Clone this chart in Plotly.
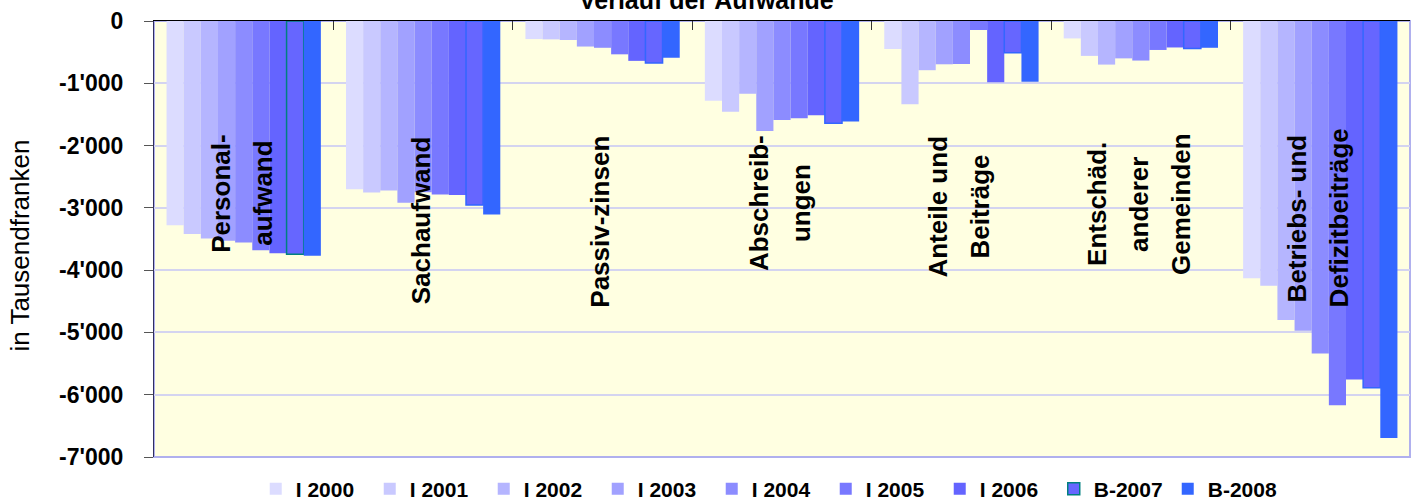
import plotly.graph_objects as go

# ---- data ----
categories = ["Personalaufwand", "Sachaufwand", "Passivzinsen", "Abschreibungen",
              "Anteile und Beiträge", "Entschädigungen anderer Gemeinden",
              "Betriebs- und Defizitbeiträge"]
category_label_lines = [["Personal-", "aufwand"], ["Sachaufwand"], ["Passiv-zinsen"],
                        ["Abschreib-", "ungen"], ["Anteile und", "Beiträge"],
                        ["Entschäd.", "anderer", "Gemeinden"],
                        ["Betriebs- und", "Defizitbeiträge"]]
series_names = ["I 2000", "I 2001", "I 2002", "I 2003", "I 2004", "I 2005", "I 2006",
                "B-2007", "B-2008"]
v_2000 = [-3280, -2700, -290, -1280, -450, -280, -4130]
v_2001 = [-3420, -2755, -295, -1455, -1335, -560, -4250]
v_2002 = [-3490, -2720, -305, -1170, -790, -700, -4800]
v_2003 = [-3530, -2920, -410, -1765, -695, -600, -4975]
v_2004 = [-3555, -2750, -430, -1590, -690, -635, -5340]
v_2005 = [-3680, -2785, -535, -1560, -145, -465, -6170]
v_2006 = [-3730, -2795, -640, -1515, -985, -425, -5755]
v_b2007 = [-3745, -2955, -675, -1640, -510, -440, -5890]
v_b2008 = [-3770, -3105, -590, -1615, -975, -430, -6695]
series_values = [v_2000, v_2001, v_2002, v_2003, v_2004, v_2005, v_2006, v_b2007, v_b2008]
ytick_vals = [0, -1000, -2000, -3000, -4000, -5000, -6000, -7000]
ytick_text = ["0", "-1'000", "-2'000", "-3'000", "-4'000", "-5'000", "-6'000", "-7'000"]

# ---- style ----
colors = ["#DCDCFF", "#C9C9FF", "#B5B5FF", "#A1A1FF", "#8C8CFF", "#7878FF", "#6464FF",
          "#6666FF", "#3366FF"]
FONT = "Liberation Sans, Arial, sans-serif"

fig = go.Figure()
for name, vals, col in zip(series_names, series_values, colors):
    if name == "B-2007":
        line = dict(color=["#008080"] + ["#3366FF"] * (len(vals) - 1), width=1.5)
    else:
        line = dict(width=0)
    fig.add_trace(go.Bar(name=name, x=categories, y=vals, marker=dict(color=col, line=line)))

# rotated category labels inside plot
label_center_px = [193, 220, 222, 203, 206, 204, 218]
plot_top_px, px_per_1000 = 21, 62.25
annotations = []
for cat, lines, cpx in zip(categories, category_label_lines, label_center_px):
    n = len(lines)
    yval = -(cpx - plot_top_px) / px_per_1000 * 1000
    for j, ln in enumerate(lines):
        annotations.append(dict(x=cat, y=yval, xref="x", yref="y", text=ln, showarrow=False,
                                textangle=-90, xanchor="center", yanchor="middle",
                                xshift=(j - (n - 1) / 2) * 42 - 2,
                                font=dict(family=FONT, size=26, color="black", weight="bold")))
# y axis title
annotations.append(dict(x=-0.107, y=0.484, xref="paper", yref="paper", text="in Tausendfranken",
                        showarrow=False, textangle=-90, xanchor="center", yanchor="middle",
                        font=dict(family=FONT, size=26, color="black")))
# title (partly cut off at the top)
annotations.append(dict(x=0.4395, y=1.049, xref="paper", yref="paper", text="Verlauf der Aufwände",
                        showarrow=False, xanchor="center", yanchor="middle",
                        font=dict(family=FONT, size=25, color="black", weight="bold")))

fig.update_layout(
    width=1417, height=501,
    margin=dict(l=154, r=7, t=21, b=44, autoexpand=False),
    paper_bgcolor="white", plot_bgcolor="#FFFFE1",
    barmode="group", bargap=0.14, bargroupgap=0,
    showlegend=True,
    legend=dict(orientation="h", x=0.081, xanchor="left", xref="paper",
                y=0.024, yanchor="middle", yref="container",
                font=dict(family=FONT, size=21, color="black", weight="bold"),
                entrywidth=69, entrywidthmode="pixels", itemwidth=30,
                bgcolor="rgba(0,0,0,0)", tracegroupgap=0),
    annotations=annotations,
    xaxis=dict(side="top", showticklabels=False, ticks="inside", ticklen=9, tickson="boundaries",
               tickcolor="#333333", showline=True, linecolor="black", linewidth=1,
               showgrid=False, zeroline=False, fixedrange=True, automargin=False),
    yaxis=dict(range=[-7000, 0], tickvals=ytick_vals, ticktext=ytick_text, ticks="outside",
               ticklen=9, tickcolor="#555555", ticklabelstandoff=16, automargin=False,
               tickfont=dict(family=FONT, size=23, color="black", weight="bold"),
               showline=True, linecolor="#303060", linewidth=1,
               showgrid=True, gridcolor="#D4D4F0", gridwidth=1.5, zeroline=False),
    shapes=[dict(type="rect", xref="paper", yref="paper", x0=0, x1=1, y0=0, y1=1,
                 line=dict(color="#B0B0EE", width=2), layer="below")],
)
fig.write_html("out.html", post_script="document.body.style.margin='0';",
               config={"displayModeBar": False})
